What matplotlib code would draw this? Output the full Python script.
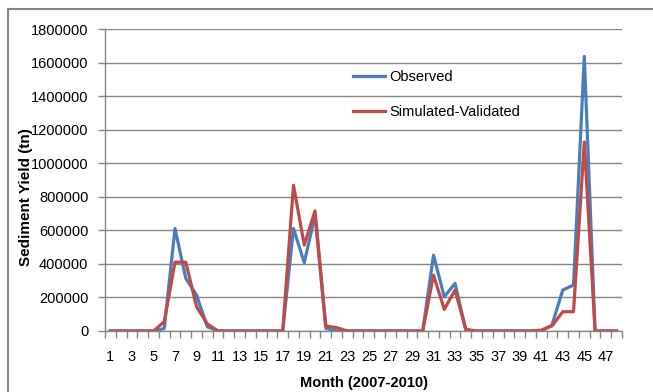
#  Sediment yield, observed vs simulated (validation period)
import numpy as np
import matplotlib.pyplot as plt
from matplotlib.lines import Line2D

months = np.arange(1, 49)
observed = [0, 0, 0, 0, 0, 15000, 611000, 314000, 214000, 25000,
            0, 0, 0, 0, 0, 0, 0, 611000, 407000, 690000,
            16000, 0, 0, 0, 0, 0, 0, 0, 0, 0,
            452000, 204000, 284000, 5000, 0, 0, 0, 0, 0, 0,
            0, 36000, 244000, 274000, 1637000, 0, 0, 0]
simulated = [0, 0, 0, 0, 0, 55000, 410000, 410000, 145000, 42000,
             0, 0, 0, 0, 0, 0, 0, 869000, 512000, 716000,
             30000, 20000, 0, 0, 0, 0, 0, 0, 0, 0,
             333000, 129000, 244000, 10000, 0, 0, 0, 0, 0, 0,
             5000, 30000, 115000, 115000, 1127000, 0, 0, 0]
yticks = np.arange(0, 1800001, 200000)

plt.rcParams['font.family'] = ['Liberation Sans', 'DejaVu Sans']
grey = '#868686'

fig = plt.figure(figsize=(6.53, 3.92), dpi=100)
ax = fig.add_axes([105/653, 1 - 331/392, (622 - 105)/653, (331 - 29)/392])

ax.plot(months, observed, color='#4A7EBB', lw=2.3, label='Observed')
ax.plot(months, simulated, color='#BE4B48', lw=2.3, label='Simulated-Validated')

ax.set_xlim(0.5, 48.5)
ax.set_ylim(0, 1800000)
ax.set_yticks(yticks)
ax.set_yticklabels([str(v) for v in yticks])
ax.set_xticks(np.arange(1, 48, 2))
ax.set_xticks(np.arange(0.5, 48.6, 1), minor=True)
ax.tick_params(axis='x', which='major', length=0, pad=14, labelsize=10.5)
ax.tick_params(axis='x', which='minor', length=5, color=grey, width=1)
ax.tick_params(axis='y', length=5, color=grey, width=1, labelsize=10.5, pad=7)
ax.grid(axis='y', color=grey, lw=1)
ax.set_axisbelow(True)
for s in ['top', 'right']:
    ax.spines[s].set_visible(False)
for s in ['left', 'bottom']:
    ax.spines[s].set_color(grey)
    ax.spines[s].set_linewidth(1)

ax.set_xlabel('Month (2007-2010)', fontsize=10.5, fontweight='bold', labelpad=8)
ax.set_ylabel('Sediment Yield (tn)', fontsize=11, fontweight='bold')
ax.yaxis.set_label_coords(33/653, 1 - 197/392, transform=fig.transFigure)

ax.legend(loc='upper left', bbox_to_anchor=(340/653, 1 - 57/392),
          bbox_transform=fig.transFigure, frameon=False, fontsize=10.5,
          handlelength=2.2, handletextpad=0.3, labelspacing=1.45)

# chart-area border (only top and left visible in the crop)
fig.add_artist(Line2D([8/653, 8/653], [0, 1 - 9/392], color=grey, lw=1.5,
                      transform=fig.transFigure))
fig.add_artist(Line2D([8/653, 1], [1 - 9/392, 1 - 9/392], color=grey, lw=1.5,
                      transform=fig.transFigure))

fig.savefig('out.png', dpi=100)
